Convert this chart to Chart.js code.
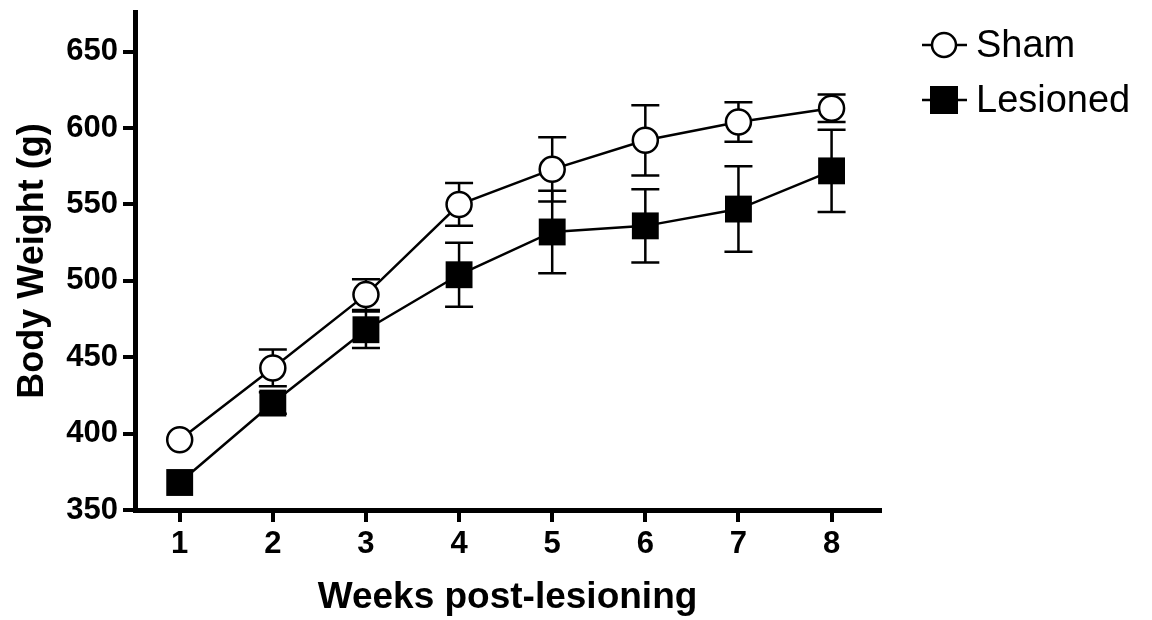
<!DOCTYPE html>
<html>
<head>
<meta charset="utf-8">
<script src="https://cdn.jsdelivr.net/npm/chart.js@4"></script>
<style>
  html, body { margin: 0; padding: 0; background: #fff; }
  #wrap { width: 1152px; height: 620px; }
</style>
</head>
<body>
<div id="wrap"><canvas id="bodyWeightChart" width="1152" height="620"></canvas></div>
<script>
// Data (week 1 error bars are hidden behind the markers)
const weeks = [1, 2, 3, 4, 5, 6, 7, 8];
const shamMean = [396, 443, 491, 550, 573, 592, 604, 613];
const shamErr = [0, 12, 10, 14, 21, 23, 13, 9];
const lesionedMean = [368, 420, 468, 504, 532, 536, 547, 572];
const lesionedErr = [0, 7, 12, 21, 27, 24, 28, 27];
const seriesNames = ['Sham', 'Lesioned'];
const xTicks = [1, 2, 3, 4, 5, 6, 7, 8];
const yTicks = [350, 400, 450, 500, 550, 600, 650];

const FONT = '"Liberation Sans", Arial, sans-serif';
const ctx = document.getElementById('bodyWeightChart').getContext('2d');

function toPoints(xs, ys) {
    return xs.map((x, i) => ({ x: x, y: ys[i] }));
}

// Error bars drawn under the markers
const errorBars = {
    id: 'errorBars',
    beforeDatasetsDraw(chart) {
        const c = chart.ctx;
        const xs = chart.scales.x;
        const ys = chart.scales.y;
        const sets = [[shamMean, shamErr], [lesionedMean, lesionedErr]];
        c.save();
        c.strokeStyle = '#000';
        c.lineWidth = 2.5;
        sets.forEach(([means, errs]) => {
            weeks.forEach((w, i) => {
                if (!errs[i]) return;
                const px = xs.getPixelForValue(w);
                const top = ys.getPixelForValue(means[i] + errs[i]);
                const bot = ys.getPixelForValue(means[i] - errs[i]);
                c.beginPath();
                c.moveTo(px, top); c.lineTo(px, bot);
                c.moveTo(px - 14, top); c.lineTo(px + 14, top);
                c.moveTo(px - 14, bot); c.lineTo(px + 14, bot);
                c.stroke();
            });
        });
        c.restore();
    }
};

// Legend in the top right, line through the marker like the original
const sideLegend = {
    id: 'sideLegend',
    afterDraw(chart) {
        const c = chart.ctx;
        const rows = [45, 100];
        c.save();
        c.strokeStyle = '#000';
        c.lineWidth = 2.5;
        c.font = '38px ' + FONT;
        c.textBaseline = 'middle';
        c.fillStyle = '#000';
        rows.forEach((y, i) => {
            c.beginPath();
            c.moveTo(922, y); c.lineTo(967, y);
            c.stroke();
            if (i === 0) {
                c.beginPath();
                c.arc(944, y, 12, 0, Math.PI * 2);
                c.fillStyle = '#fff';
                c.fill();
                c.stroke();
            } else {
                c.fillStyle = '#000';
                c.fillRect(930, y - 14, 28, 28);
            }
            c.fillStyle = '#000';
            c.fillText(seriesNames[i], 976, y + 2);
        });
        c.restore();
    }
};

new Chart(ctx, {
    type: 'line',
    data: {
        datasets: [
            {
                label: seriesNames[0],
                data: toPoints(weeks, shamMean),
                borderColor: '#000',
                borderWidth: 2.5,
                pointStyle: 'circle',
                pointRadius: 12.5,
                pointBackgroundColor: '#fff',
                pointBorderColor: '#000',
                pointBorderWidth: 2.5,
                tension: 0
            },
            {
                label: seriesNames[1],
                data: toPoints(weeks, lesionedMean),
                borderColor: '#000',
                borderWidth: 2.5,
                pointStyle: 'rect',
                pointRadius: 19,
                pointBackgroundColor: '#000',
                pointBorderColor: '#000',
                pointBorderWidth: 0,
                tension: 0
            }
        ]
    },
    options: {
        responsive: false,
        animation: false,
        layout: { autoPadding: false, padding: { top: 12, right: 272, left: 0, bottom: 0 } },
        plugins: {
            legend: { display: false },
            tooltip: { enabled: false }
        },
        scales: {
            x: {
                type: 'linear',
                min: 0.52,
                max: 8.52,
                afterBuildTicks: scale => { scale.ticks = xTicks.map(v => ({ value: v })); },
                afterFit: scale => { scale.height = 110; },
                border: { display: true, color: '#000', width: 5 },
                grid: { drawOnChartArea: false, color: '#000', lineWidth: 4, tickLength: 12 },
                ticks: {
                    color: '#000',
                    padding: 4,
                    font: { family: FONT, size: 31, weight: 'bold' }
                },
                title: {
                    display: true,
                    text: 'Weeks post-lesioning',
                    color: '#000',
                    padding: { bottom: 0 },
                    font: { family: FONT, size: 37, weight: 'bold' }
                }
            },
            y: {
                min: 350,
                max: 676,
                afterBuildTicks: scale => { scale.ticks = yTicks.map(v => ({ value: v })); },
                afterFit: scale => {
                    scale.width = 135;
                    scale.paddingTop = 0;
                    scale.paddingBottom = 0;
                },
                border: { display: true, color: '#000', width: 5 },
                grid: { drawOnChartArea: false, color: '#000', lineWidth: 4, tickLength: 12 },
                ticks: {
                    color: '#000',
                    padding: 5,
                    font: { family: FONT, size: 31, weight: 'bold' }
                },
                title: {
                    display: true,
                    text: 'Body Weight (g)',
                    color: '#000',
                    padding: { top: 11 },
                    font: { family: FONT, size: 36, weight: 'bold' }
                }
            }
        }
    },
    plugins: [errorBars, sideLegend]
});
</script>
</body>
</html>
